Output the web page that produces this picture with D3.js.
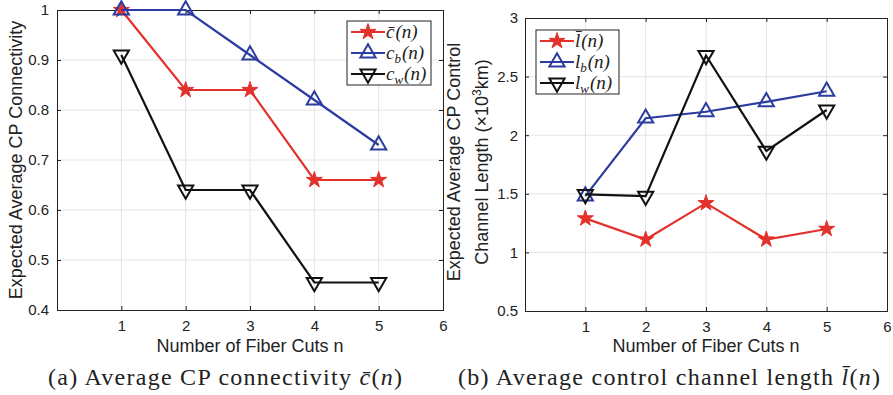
<!DOCTYPE html>
<html><head><meta charset="utf-8">
<script src="https://cdn.jsdelivr.net/npm/d3@7"></script>
<style>body{margin:0;background:#fff}svg{display:block}</style>
</head><body>
<script>
const xTicks = [1,2,3,4,5,6];
const n = [1,2,3,4,5];
const cBar = [1.0, 0.84, 0.84, 0.66, 0.66];
const cB   = [1.0, 1.0, 0.91, 0.82, 0.73];
const cW   = [0.91, 0.64, 0.64, 0.455, 0.455];
const lBar = [1.29, 1.11, 1.42, 1.11, 1.20];
const lB   = [1.48, 2.145, 2.20, 2.285, 2.375];
const lW   = [1.495, 1.48, 2.68, 1.865, 2.215];
const yTicksA = [0.4,0.5,0.6,0.7,0.8,0.9,1];
const yTicksB = [0.5,1,1.5,2,2.5,3];

const RED = "#e3312b", BLUE = "#2c3c9f", BLACK = "#111";
const W = 893, H = 395;
const svg = d3.select("body").append("svg").attr("width", W).attr("height", H);
const sans = "'Liberation Sans', Arial, Helvetica, sans-serif";
const serif = "'Liberation Serif', 'Times New Roman', serif";

function drawPanel(o) {
  const x = d3.scaleLinear().domain([0,6]).range([o.x0, o.x1]);
  const y = d3.scaleLinear().domain(o.yDomain).range([o.y1, o.y0]);
  const g = svg.append("g");
  // grid
  g.selectAll(".gx").data(xTicks.slice(0,-1)).enter().append("line")
    .attr("x1", d=>x(d)).attr("x2", d=>x(d)).attr("y1", o.y0).attr("y2", o.y1)
    .attr("stroke", "#e4e4e4").attr("stroke-width", 1);
  g.selectAll(".gy").data(o.yTicks.slice(1,-1)).enter().append("line")
    .attr("y1", d=>y(d)).attr("y2", d=>y(d)).attr("x1", o.x0).attr("x2", o.x1)
    .attr("stroke", "#e4e4e4").attr("stroke-width", 1);
  // axes (ticks inward)
  const axB = d3.axisBottom(x).tickValues(xTicks).tickSize(-4).tickPadding(10).tickFormat(d3.format("d"));
  const axL = d3.axisLeft(y).tickValues(o.yTicks).tickSize(-4).tickPadding(o.tp).tickFormat(d=>String(d));
  const axT = d3.axisTop(x).tickValues(xTicks).tickSize(-4).tickFormat("");
  const axR = d3.axisRight(y).tickValues(o.yTicks).tickSize(-4).tickFormat("");
  [[axB,`translate(0,${o.y1})`],[axL,`translate(${o.x0},0)`],[axT,`translate(0,${o.y0})`],[axR,`translate(${o.x1},0)`]].forEach(([a,t])=>{
    const ag = g.append("g").attr("transform", t).call(a);
    ag.selectAll("path.domain").attr("stroke", "#222").attr("stroke-width", 1);
    ag.selectAll(".tick line").attr("stroke", "#222");
    ag.selectAll("text").attr("font-family", sans).attr("font-size", 15).attr("fill", "#222");
  });
  // series
  const line = d3.line().x((d,i)=>x(n[i])).y(d=>y(d));
  o.series.forEach(s=>{
    g.append("path").datum(s.values).attr("d", line).attr("fill","none")
      .attr("stroke", s.color).attr("stroke-width", 2.2);
    g.selectAll(null).data(s.values).enter().append("path")
      .attr("transform", (d,i)=>`translate(${x(n[i])},${y(d)})${s.rot?" rotate(180)":""}`)
      .attr("d", d3.symbol().type(s.sym).size(s.size))
      .attr("fill", s.fill).attr("stroke", s.color).attr("stroke-width", s.sw);
  });
  // axis labels
  g.append("text").attr("x", (o.x0+o.x1)/2).attr("y", 352).attr("text-anchor","middle")
    .attr("font-family", sans).attr("font-size", 18).attr("fill","#222").text("Number of Fiber Cuts n");
  o.ylabel.forEach((t,i)=>{
    const tx = g.append("text").attr("transform", `translate(${o.ylx + i*28},${o.ylc}) rotate(-90)`)
      .attr("text-anchor","middle").attr("font-family", sans).attr("font-size", 18).attr("fill","#222");
    t.forEach(p=>{ const ts = tx.append("tspan").text(p.t); if (p.sup) ts.attr("baseline-shift","super").attr("font-size",12); });
  });
  // legend
  const lg = g.append("g").attr("transform", `translate(${o.lx},${o.ly})`);
  lg.append("rect").attr("width", o.lw).attr("height", 64).attr("fill","#fff").attr("stroke","#222").attr("stroke-width",1);
  o.series.forEach((s,i)=>{
    const yy = 11 + i*21;
    lg.append("line").attr("x1",4).attr("x2",38).attr("y1",yy).attr("y2",yy).attr("stroke",s.color).attr("stroke-width",2.2);
    lg.append("path").attr("transform",`translate(21,${yy})${s.rot?" rotate(180)":""}`)
      .attr("d", d3.symbol().type(s.sym).size(s.size)).attr("fill", s.fill).attr("stroke", s.color).attr("stroke-width", s.sw);
    const t = lg.append("text").attr("x",39).attr("y",yy+6).attr("font-family",serif).attr("font-style","italic").attr("font-size",19).attr("fill","#222");
    t.append("tspan").text(s.base);
    if (s.sub) t.append("tspan").attr("font-size",13).attr("dy",4).text(s.sub);
    t.append("tspan").attr("dy", s.sub? -4:0).attr("dx",1).text("(");
    t.append("tspan").text("n");
    t.append("tspan").text(")");
  });
}

drawPanel({
  x0: 57, x1: 443, y0: 10, y1: 310, yDomain: [0.4,1], yTicks: yTicksA, tp: 8,
  ylx: 22, ylc: 160, ylabel: [[{t:"Expected Average CP Connectivity"}]],
  lx: 347, ly: 21, lw: 84,
  series: [
    {values: cBar, color: RED, sym: d3.symbolStar, size: 80, fill: RED, sw: 1, base: "c\u0304"},
    {values: cB, color: BLUE, sym: d3.symbolTriangle, size: 100, fill: "none", sw: 2, base: "c", sub: "b"},
    {values: cW, color: BLACK, sym: d3.symbolTriangle, size: 100, fill: "none", sw: 2, base: "c", sub: "w", rot: true}
  ]
});
drawPanel({
  x0: 525, x1: 887, y0: 18, y1: 311, yDomain: [0.5,3], yTicks: yTicksB, tp: 7,
  ylx: 460, ylc: 162, ylabel: [[{t:"Expected Average CP Control"}],[{t:"Channel Length (×10"},{t:"3",sup:true},{t:"km)"}]],
  lx: 536, ly: 30, lw: 83,
  series: [
    {values: lBar, color: RED, sym: d3.symbolStar, size: 80, fill: RED, sw: 1, base: "l\u0304"},
    {values: lB, color: BLUE, sym: d3.symbolTriangle, size: 100, fill: "none", sw: 2, base: "l", sub: "b"},
    {values: lW, color: BLACK, sym: d3.symbolTriangle, size: 100, fill: "none", sw: 2, base: "l", sub: "w", rot: true}
  ]
});

// captions
const cap = [
  {x: 48, len: 354, parts: [["(a) Average CP connectivity ", false], ["c\u0304", true], ["(", false], ["n", true], [")", false]]},
  {x: 458, len: 422, parts: [["(b) Average control channel length ", false], ["l\u0304", true], ["(", false], ["n", true], [")", false]]}
];
cap.forEach(c=>{
  const t = svg.append("text").attr("x", c.x).attr("y", 385)
    .attr("textLength", c.len).attr("lengthAdjust", "spacing")
    .attr("font-family", serif).attr("font-size", 24).attr("fill","#222");
  c.parts.forEach(p=>t.append("tspan").attr("font-style", p[1]?"italic":"normal").text(p[0]));
});
</script>
</body></html>
